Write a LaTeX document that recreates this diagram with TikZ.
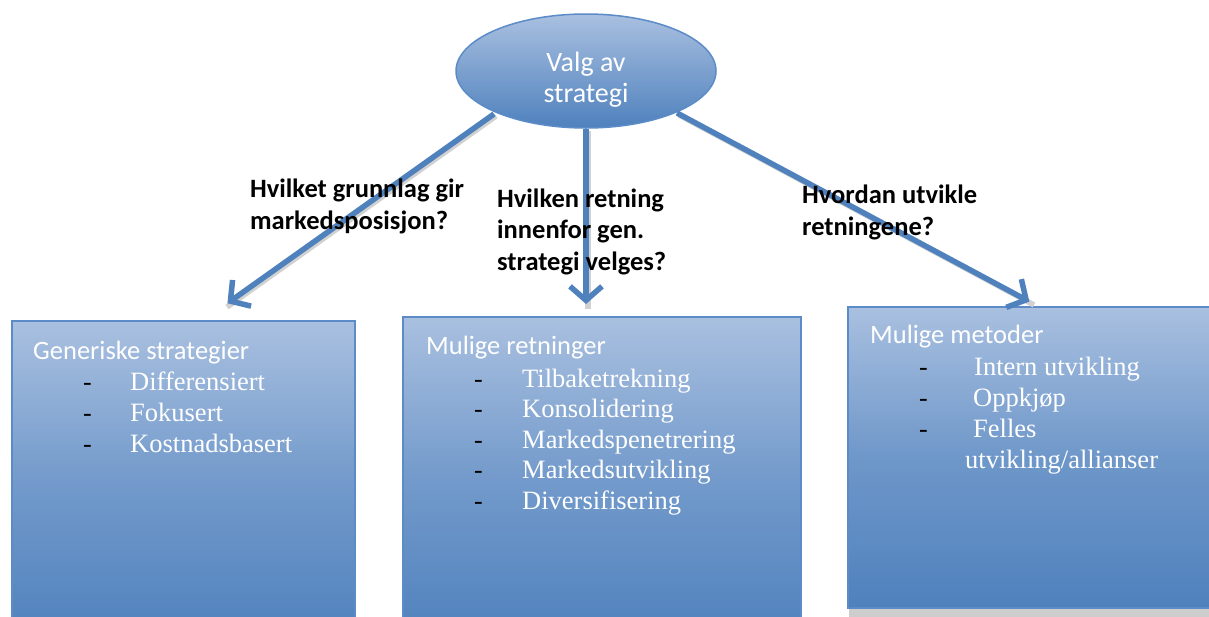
\documentclass[tikz,border=0pt]{standalone}
\usepackage{fontspec}
\setmainfont{Liberation Serif}
\newfontfamily\carlitofont{Carlito}
\usetikzlibrary{arrows.meta,shapes.geometric,shadows}
\definecolor{accent}{RGB}{79,129,189}
\definecolor{accentlight}{RGB}{169,192,224}
\definecolor{edgeblue}{RGB}{92,140,200}
\definecolor{shadowgrey}{RGB}{205,205,205}
\tikzset{
  panel/.style={draw=edgeblue, line width=1.5pt, top color=accentlight, bottom color=accent, middle color=accent!60!accentlight},
  flowarrow/.style={draw=accent, line width=5.5pt, -{Straight Barb[length=14pt,width=32pt,line width=5.5pt]}, shorten >=3pt},
  arrowshadow/.style={draw=black!18, line width=5.5pt},
  question/.style={anchor=base west, font=\carlitofont\bfseries\fontsize{26.5}{31.5}\selectfont, align=left, inner sep=0pt},
  heading/.style={anchor=base west, font=\carlitofont\fontsize{26.5}{31}\selectfont, text=white, inner sep=0pt},
  item/.style={anchor=base west, font=\fontsize{26.5}{31}\selectfont, text=white, inner sep=0pt},
  bullet/.style={anchor=base west, font=\fontsize{26}{31}\selectfont, text=black, inner sep=0pt},
}
\begin{document}
\begin{tikzpicture}[x=1pt,y=-1pt]
\useasboundingbox (0,0) rectangle (1209,616);
\fill[white] (0,0) rectangle (1209,616);

% the three result panels
\fill[shadowgrey] (849,606) rectangle (1215,620);
\path[panel] (12,321) rectangle (355,640);
\path[panel] (403,317) rectangle (801,640);
\path[panel, top color=accentlight, bottom color=accent, middle color=accent!65!accentlight] (848,307) rectangle (1215,608);

% central question
\node[ellipse, minimum width=260pt, minimum height=114pt, draw=edgeblue, line width=1.5pt,
      top color=accentlight, bottom color=accent] (root) at (586,71) {};
\node[font=\carlitofont\fontsize{28}{31}\selectfont, text=white, align=center] (roottext) at (586,80) {Valg av\\strategi};

% connector end points on the panels
\coordinate (tipL) at (225,305);
\coordinate (tipM) at (586,307);
\coordinate (tipR) at (1032,303);
\coordinate (srcL) at (494,114);
\coordinate (srcM) at (586,129);
\coordinate (srcR) at (677,113);

% soft shadows under the connectors
\draw[arrowshadow] ([shift={(2,2)}]srcL) -- ([shift={(2,2)}]tipL);
\draw[arrowshadow] ([shift={(2,2)}]srcM) -- ([shift={(2,2)}]tipM);
\draw[arrowshadow] ([shift={(2,2)}]srcR) -- ([shift={(2,2)}]tipR);

\draw[flowarrow] (srcL) -- (tipL);
\draw[flowarrow] (srcM) -- (tipM);
\draw[flowarrow] (srcR) -- (tipR);

% questions along the connectors (anchored at the last line's baseline)
\node[question] (qL) at (250,229) {Hvilket grunnlag gir\\markedsposisjon?};
\node[question] (qM) at (497,270) {Hvilken retning\\innenfor gen.\\strategi velges?};
\node[question] (qR) at (802,235) {Hvordan utvikle\\retningene?};

% left panel
\node[heading] (hL) at (33,359) {Generiske strategier};
\node[bullet] (bL1) at (83,390) {-};
\node[bullet] (bL2) at (83,421) {-};
\node[bullet] (bL3) at (83,452) {-};
\node[item] (iL1) at (130,390) {Differensiert};
\node[item] (iL2) at (130,421) {Fokusert};
\node[item] (iL3) at (130,452) {Kostnadsbasert};

% middle panel
\node[heading] (hM) at (426,354) {Mulige retninger};
\node[bullet] (bM1) at (474,387) {-};
\node[bullet] (bM2) at (474,417) {-};
\node[bullet] (bM3) at (474,448) {-};
\node[bullet] (bM4) at (474,478) {-};
\node[bullet] (bM5) at (474,509) {-};
\node[item] (iM1) at (522,387) {Tilbaketrekning};
\node[item] (iM2) at (522,417) {Konsolidering};
\node[item] (iM3) at (522,448) {Markedspenetrering};
\node[item] (iM4) at (522,478) {Markedsutvikling};
\node[item] (iM5) at (522,509) {Diversifisering};

% right panel
\node[heading] (hR) at (870,343) {Mulige metoder};
\node[bullet] (bR1) at (919,375) {-};
\node[bullet] (bR2) at (919,406) {-};
\node[bullet] (bR3) at (919,437) {-};
\node[item] (iR1) at (974,375) {Intern utvikling};
\node[item] (iR2) at (973,406) {Oppkjøp};
\node[item] (iR3) at (973,437) {Felles};
\node[item] (iR4) at (965,468) {utvikling/allianser};
\end{tikzpicture}
\end{document}
